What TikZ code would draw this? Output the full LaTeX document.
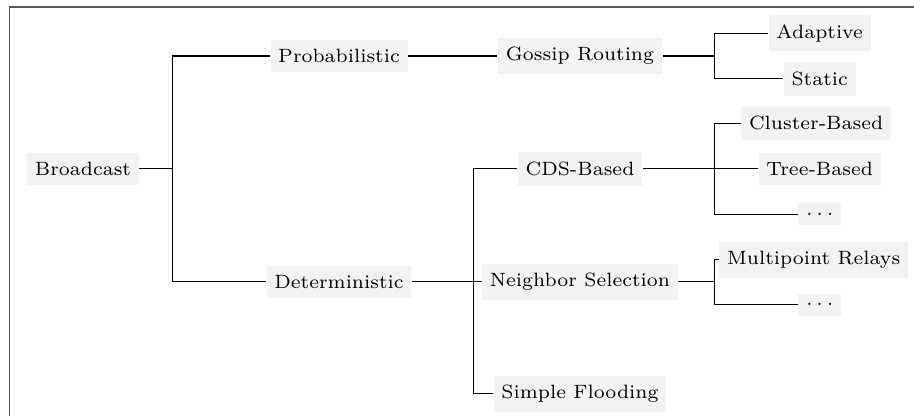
\documentclass[tikz,border=0pt]{standalone}
\usepackage{tikz}
\usetikzlibrary{positioning}

\begin{document}
\begin{tikzpicture}[line width=0.5pt,on grid,
        cat/.style={fill=black!5,inner xsep=2.8pt,inner ysep=3.5pt,scale=1.3,font=\fontsize{7}{8}\selectfont},
        frame/.style={draw=black!65,line width=0.7pt}]
        \useasboundingbox (-1.378,-4.10) rectangle (13.795,2.805);
        \draw[frame] (-1.22,-4.10) |- (13.795,2.689);
        \node[cat] (bc) at (0,0) {Broadcast};
        \coordinate[right=1.49cm of bc] (j0);
        \node[cat] (prob) [above right=1.875cm and 4.25cm of bc] {Probabilistic};
        \node[cat] (det) [below right=1.875cm and 4.25cm of bc] {Deterministic};
        \node[cat] (gossip) [right=4cm of prob] {Gossip Routing};
        \coordinate[right=2.24cm of gossip] (j2);
        \node[cat] (adapt) [above right=0.38cm and 3.98cm of gossip] {Adaptive};
        \node[cat] (static) [below right=0.38cm and 3.98cm of gossip] {Static};
        \coordinate[right=2.24cm of det] (j1);
        \node[cat] (ns) [right=4cm of det] {Neighbor Selection};
        \node[cat] (cds) [above=1.875cm of ns] {CDS-Based};
        \node[cat] (flood) [below=1.86cm of ns] {Simple Flooding};
        \coordinate[right=2.24cm of cds] (j3);
        \coordinate[right=2.24cm of ns] (j4);
        \node[cat] (cluster) [above right=0.76cm and 3.92cm of cds] {Cluster-Based};
        \node[cat] (tree) [right=3.98cm of cds] {Tree-Based};
        \node[cat] (cdots) [below right=0.75cm and 3.98cm of cds] {$\ldots$};
        \node[cat] (mpr) [above right=0.365cm and 3.88cm of ns] {Multipoint Relays};
        \node[cat] (ndots) [below right=0.38cm and 3.98cm of ns] {$\ldots$};
        \draw (bc) -- (j0) (j0) |- (prob) (j0) |- (det);
        \draw (prob) -- (gossip);
        \draw (gossip) -- (j2) (j2) |- (adapt) (j2) |- (static);
        \draw (det) -- (j1) (j1) |- (cds) (j1) |- (ns) (j1) |- (flood);
        \draw (cds) -- (j3) (j3) |- (cluster) (j3) -- (tree) (j3) |- (cdots);
        \draw (ns) -- (j4) (j4) |- (mpr) (j4) |- (ndots);
    \end{tikzpicture}
\end{document}
